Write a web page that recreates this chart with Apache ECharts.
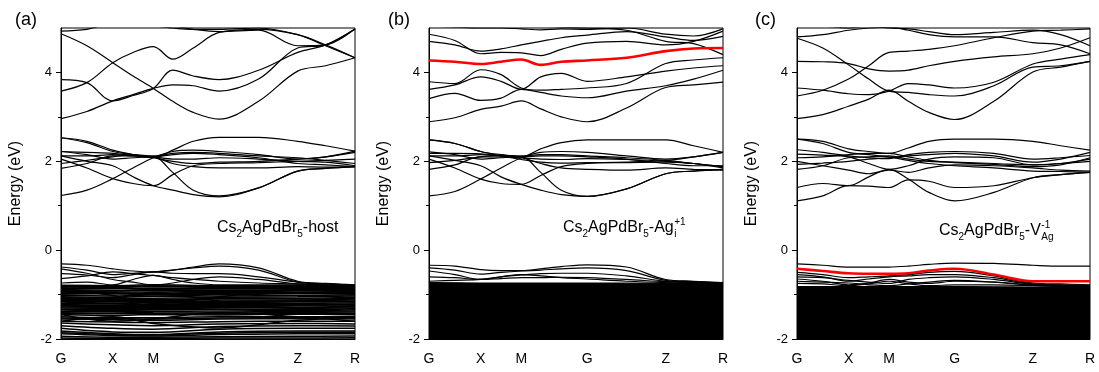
<!DOCTYPE html>
<html><head><meta charset="utf-8">
<script src="https://cdn.jsdelivr.net/npm/echarts@6/dist/echarts.min.js"></script>
<style>html,body{margin:0;padding:0;background:#fff}#c{width:1099px;height:372px}</style>
</head><body><div id="c"></div>
<script>
// k-path coordinates (fraction of path length)
const kGrid = [0, 0.088, 0.176, 0.245, 0.314, 0.38, 0.45, 0.538, 0.672, 0.805, 0.9, 1];
const kHS = [0, 0.176, 0.314, 0.538, 0.805, 1];
const kLabels = ['G', 'X', 'M', 'G', 'Z', 'R'];
const yLabelTicks = [-2, 0, 2, 4];
const yMinorTicks = [-1, 1, 3];

// ---------- Panel (a) host ----------
const aUpper = [
  [2.96, 3.12, 3.36, 3.50, 3.64, 3.72, 3.70, 3.58, 3.85, 4.55, 4.62, 4.98],
  [3.58, 3.77, 4.22, 4.45, 4.58, 4.30, 4.55, 4.90, 4.97, 4.85, 4.62, 4.33],
  [4.87, 4.60, 4.22, 3.92, 3.64, 3.35, 3.10, 2.95, 3.35, 4.03, 4.15, 4.33],
  [3.84, 3.77, 3.36, 3.48, 3.64, 4.05, 3.92, 3.84, 4.05, 4.45, 4.62, 4.98],
  [4.93, 4.97, 5.10, 5.10, 5.10, 5.05, 4.97, 4.92, 4.95, 4.60, 4.62, 4.98],
  [5.20, 5.20, 5.20, 5.10, 5.05, 5.00, 4.97, 4.97, 5.00, 4.85, 4.60, 4.33]
];
const aMiddle = [
  [2.53, 2.45, 2.25, 2.15, 2.08, 2.25, 2.45, 2.54, 2.54, 2.45, 2.35, 2.23],
  [1.23, 1.35, 1.61, 1.85, 2.08, 2.22, 2.25, 2.22, 2.15, 2.05, 2.10, 2.23],
  [2.05, 1.85, 1.61, 1.50, 1.45, 1.70, 1.90, 1.95, 1.97, 2.00, 2.02, 2.05],
  [1.84, 1.95, 2.12, 2.12, 2.10, 1.95, 1.88, 1.85, 1.85, 1.88, 1.87, 1.88],
  [2.22, 2.15, 2.05, 2.08, 2.10, 1.75, 1.35, 1.22, 1.40, 1.78, 1.84, 1.88],
  [2.12, 2.00, 1.90, 1.65, 1.45, 1.35, 1.25, 1.20, 1.40, 1.78, 1.84, 1.88],
  [1.95, 2.02, 2.10, 2.15, 2.12, 2.18, 2.20, 2.18, 2.12, 2.08, 2.02, 1.95],
  [2.12, 2.12, 2.15, 2.12, 2.10, 2.05, 2.05, 2.08, 2.05, 2.00, 1.98, 1.90],
  [2.22, 2.20, 2.18, 2.13, 2.10, 2.15, 2.18, 2.15, 2.08, 1.95, 1.92, 1.88],
  [2.53, 2.42, 2.22, 2.15, 2.08, 2.00, 1.95, 1.98, 2.00, 2.05, 2.10, 2.20]
];
const aValence = [
  [-0.31, -0.34, -0.42, -0.47, -0.49, -0.45, -0.38, -0.31, -0.40, -0.70, -0.75, -0.78],
  [-0.38, -0.45, -0.55, -0.52, -0.49, -0.45, -0.40, -0.36, -0.45, -0.72, -0.76, -0.79],
  [-0.53, -0.56, -0.62, -0.55, -0.49, -0.52, -0.53, -0.53, -0.60, -0.72, -0.76, -0.79],
  [-0.64, -0.58, -0.49, -0.53, -0.57, -0.62, -0.66, -0.70, -0.74, -0.76, -0.78, -0.80],
  [-0.74, -0.72, -0.78, -0.66, -0.57, -0.66, -0.74, -0.78, -0.78, -0.78, -0.80, -0.82],
  [-0.42, -0.52, -0.66, -0.72, -0.78, -0.74, -0.66, -0.60, -0.66, -0.76, -0.79, -0.81]
];
const aDense = [
  [-0.79, -0.80, -0.78, -0.80, -0.80, -0.82], [-0.81, -0.82, -0.80, -0.82, -0.82, -0.83],
  [-0.83, -0.84, -0.82, -0.84, -0.83, -0.85], [-0.85, -0.86, -0.85, -0.86, -0.86, -0.87],
  [-0.87, -0.86, -0.88, -0.87, -0.88, -0.88], [-0.89, -0.90, -0.89, -0.90, -0.90, -0.90],
  [-0.91, -0.92, -0.90, -0.92, -0.91, -0.92], [-0.93, -0.94, -0.94, -0.93, -0.94, -0.94],
  [-0.95, -0.96, -0.97, -0.95, -0.96, -0.95], [-0.97, -0.98, -0.98, -0.98, -0.97, -0.97],
  [-0.99, -0.98, -1.00, -1.00, -0.98, -0.99], [-1.02, -1.03, -1.01, -1.03, -1.02, -1.01],
  [-1.05, -1.06, -1.04, -1.06, -1.05, -1.03], [-1.07, -1.08, -1.08, -1.07, -1.08, -1.06],
  [-1.09, -1.10, -1.12, -1.09, -1.10, -1.08], [-1.11, -1.12, -1.11, -1.12, -1.12, -1.10],
  [-1.13, -1.14, -1.13, -1.15, -1.14, -1.12], [-1.15, -1.16, -1.16, -1.16, -1.15, -1.15],
  [-1.17, -1.19, -1.18, -1.18, -1.17, -1.17], [-1.20, -1.20, -1.21, -1.20, -1.20, -1.19],
  [-1.22, -1.21, -1.23, -1.22, -1.23, -1.21], [-1.24, -1.24, -1.25, -1.25, -1.24, -1.23],
  [-1.26, -1.27, -1.26, -1.27, -1.26, -1.26], [-1.28, -1.29, -1.29, -1.28, -1.29, -1.28],
  [-1.30, -1.31, -1.32, -1.30, -1.31, -1.30], [-1.33, -1.33, -1.33, -1.33, -1.34, -1.32],
  [-1.35, -1.36, -1.35, -1.35, -1.36, -1.34], [-1.38, -1.38, -1.38, -1.39, -1.38, -1.37],
  [-1.40, -1.39, -1.41, -1.42, -1.40, -1.39], [-1.43, -1.43, -1.43, -1.44, -1.42, -1.42],
  [-1.45, -1.47, -1.45, -1.46, -1.44, -1.45], [-1.50, -1.52, -1.52, -1.50, -1.50, -1.49],
  [-1.53, -1.54, -1.55, -1.53, -1.52, -1.52], [-1.55, -1.56, -1.58, -1.55, -1.54, -1.55],
  [-1.60, -1.62, -1.63, -1.61, -1.60, -1.60], [-1.64, -1.68, -1.70, -1.66, -1.65, -1.66],
  [-1.70, -1.76, -1.78, -1.72, -1.70, -1.71], [-1.76, -1.84, -1.85, -1.78, -1.76, -1.76],
  [-1.82, -1.88, -1.90, -1.84, -1.82, -1.82], [-1.86, -1.90, -1.91, -1.87, -1.85, -1.85],
  [-1.88, -1.92, -1.93, -1.90, -1.88, -1.88], [-1.94, -1.96, -1.96, -1.95, -1.94, -1.93],
  [-1.98, -1.99, -1.99, -1.98, -1.98, -1.97],
  [-0.85, -1.02, -1.20, -1.05, -0.90, -0.95], [-1.25, -1.10, -0.95, -1.15, -1.30, -1.25],
  [-1.45, -1.60, -1.55, -1.40, -1.50, -1.60], [-1.60, -1.50, -1.65, -1.75, -1.58, -1.52]
];

// ---------- Panel (b) Ag interstitial ----------
const bUpper = [
  [2.89, 2.98, 3.17, 3.24, 3.36, 3.18, 3.00, 2.89, 3.20, 3.66, 3.72, 3.78],
  [3.41, 3.53, 3.37, 3.42, 3.62, 3.55, 3.47, 3.43, 3.58, 3.70, 3.85, 4.05],
  [3.62, 3.72, 3.90, 3.80, 3.62, 3.90, 3.98, 3.80, 3.90, 4.03, 4.10, 4.15],
  [3.79, 3.75, 4.06, 3.95, 3.65, 3.60, 3.62, 3.65, 3.75, 4.20, 4.28, 4.33],
  [4.70, 4.62, 4.48, 4.53, 4.62, 4.70, 4.78, 4.84, 4.92, 4.80, 4.72, 4.81],
  [4.86, 4.72, 4.42, 4.45, 4.44, 4.38, 4.52, 4.66, 4.70, 4.62, 4.70, 4.93],
  [5.05, 5.02, 5.00, 5.00, 4.98, 4.96, 4.98, 4.97, 5.00, 4.86, 4.82, 4.98],
  [5.20, 5.20, 5.20, 5.15, 5.10, 5.05, 5.02, 5.00, 4.95, 4.70, 4.65, 4.40]
];
const bMiddle = [
  [2.48, 2.40, 2.22, 2.15, 2.10, 2.28, 2.42, 2.48, 2.48, 2.48, 2.35, 2.20],
  [1.22, 1.32, 1.60, 1.85, 2.08, 2.20, 2.22, 2.20, 2.12, 2.05, 2.10, 2.20],
  [2.05, 1.85, 1.60, 1.50, 1.48, 1.68, 1.88, 1.95, 1.97, 1.98, 1.95, 1.88],
  [1.82, 1.92, 2.10, 2.10, 2.08, 1.95, 1.85, 1.82, 1.80, 1.85, 1.82, 1.80],
  [2.21, 2.15, 2.05, 2.08, 2.10, 1.75, 1.35, 1.21, 1.38, 1.72, 1.78, 1.82],
  [2.12, 2.02, 1.90, 1.65, 1.48, 1.35, 1.25, 1.21, 1.38, 1.72, 1.78, 1.82],
  [1.97, 2.02, 2.10, 2.14, 2.12, 2.15, 2.15, 2.12, 2.08, 2.02, 1.95, 1.88],
  [2.12, 2.12, 2.15, 2.12, 2.08, 2.05, 2.04, 2.06, 2.04, 2.00, 1.95, 1.85],
  [2.18, 2.18, 2.17, 2.13, 2.10, 2.12, 2.12, 2.10, 2.05, 1.95, 1.90, 1.90],
  [2.48, 2.40, 2.22, 2.12, 2.04, 1.98, 1.96, 1.97, 1.98, 2.02, 2.10, 2.20]
];
const bValence = [
  [-0.34, -0.36, -0.44, -0.46, -0.46, -0.42, -0.37, -0.33, -0.38, -0.66, -0.70, -0.73],
  [-0.40, -0.45, -0.54, -0.50, -0.47, -0.45, -0.42, -0.40, -0.46, -0.68, -0.71, -0.74],
  [-0.47, -0.55, -0.66, -0.60, -0.56, -0.53, -0.52, -0.52, -0.58, -0.70, -0.72, -0.74],
  [-0.60, -0.62, -0.66, -0.64, -0.62, -0.62, -0.61, -0.62, -0.66, -0.71, -0.73, -0.74],
  [-0.70, -0.68, -0.66, -0.60, -0.55, -0.58, -0.62, -0.65, -0.70, -0.73, -0.74, -0.75]
];
const bDenseTop = [-0.73, -0.74, -0.74, -0.74, -0.75, -0.76];
const bDefect = [4.27, 4.24, 4.19, 4.24, 4.29, 4.17, 4.24, 4.27, 4.33, 4.48, 4.54, 4.55];

// ---------- Panel (c) Ag vacancy ----------
const cUpper = [
  [2.96, 3.05, 3.24, 3.40, 3.60, 3.35, 3.10, 2.94, 3.35, 4.01, 4.12, 4.25],
  [3.47, 3.60, 3.85, 4.15, 4.45, 4.48, 4.52, 4.60, 4.78, 4.93, 4.95, 4.98],
  [3.65, 3.60, 3.52, 3.50, 3.58, 3.75, 3.72, 3.65, 3.78, 4.19, 4.30, 4.40],
  [4.25, 4.24, 4.20, 4.08, 4.03, 4.05, 4.15, 4.25, 4.35, 4.42, 4.55, 4.78],
  [4.77, 4.55, 4.17, 3.85, 3.58, 3.55, 3.50, 3.47, 3.70, 4.12, 4.15, 4.25],
  [4.80, 4.85, 4.95, 5.00, 5.02, 4.95, 4.85, 4.80, 4.80, 4.67, 4.62, 4.42],
  [5.10, 5.05, 5.00, 5.05, 5.00, 4.98, 4.92, 4.85, 4.90, 4.95, 4.85, 4.60]
];
const cMiddle = [
  [2.50, 2.45, 2.28, 2.22, 2.18, 2.30, 2.45, 2.50, 2.50, 2.45, 2.35, 2.25],
  [1.11, 1.22, 1.45, 1.44, 1.41, 1.58, 1.55, 1.41, 1.45, 1.63, 1.70, 1.75],
  [1.41, 1.50, 1.45, 1.65, 1.82, 1.60, 1.30, 1.11, 1.30, 1.63, 1.70, 1.75],
  [2.00, 1.90, 1.80, 1.72, 1.80, 1.75, 1.85, 1.92, 1.90, 1.85, 1.80, 1.78],
  [1.82, 1.90, 2.08, 2.10, 2.12, 2.05, 2.00, 1.98, 1.95, 1.92, 1.95, 2.00],
  [2.26, 2.20, 2.12, 2.08, 2.06, 2.15, 2.20, 2.22, 2.18, 2.05, 2.08, 2.13],
  [2.16, 2.14, 2.10, 1.95, 1.82, 1.90, 2.05, 2.10, 2.08, 1.92, 1.95, 2.05],
  [2.08, 2.10, 2.15, 2.18, 2.18, 2.10, 2.02, 1.97, 1.93, 1.88, 1.92, 2.08],
  [1.93, 1.96, 2.00, 2.05, 2.08, 2.12, 2.15, 2.18, 2.12, 1.98, 2.05, 2.20],
  [2.50, 2.40, 2.20, 2.15, 2.10, 2.02, 1.95, 1.90, 1.85, 1.78, 1.77, 1.75]
];
const cValence = [
  [-0.31, -0.34, -0.38, -0.38, -0.38, -0.36, -0.32, -0.29, -0.30, -0.34, -0.36, -0.36],
  [-0.50, -0.55, -0.62, -0.60, -0.58, -0.55, -0.50, -0.48, -0.58, -0.74, -0.76, -0.78],
  [-0.55, -0.60, -0.70, -0.65, -0.60, -0.58, -0.55, -0.55, -0.62, -0.76, -0.78, -0.80],
  [-0.60, -0.62, -0.68, -0.72, -0.75, -0.66, -0.62, -0.60, -0.66, -0.77, -0.79, -0.80],
  [-0.65, -0.70, -0.78, -0.74, -0.66, -0.72, -0.75, -0.70, -0.72, -0.78, -0.80, -0.82],
  [-0.70, -0.72, -0.74, -0.78, -0.80, -0.76, -0.72, -0.68, -0.72, -0.79, -0.81, -0.82],
  [-0.75, -0.76, -0.80, -0.76, -0.70, -0.76, -0.80, -0.78, -0.78, -0.80, -0.82, -0.83]
];
const cDenseTop = [-0.82, -0.82, -0.82, -0.82, -0.83, -0.83];
const cDefect = [-0.42, -0.47, -0.52, -0.53, -0.53, -0.52, -0.46, -0.42, -0.55, -0.70, -0.70, -0.70];

// ---------- build ----------
const FONT = 'Liberation Sans, Arial, sans-serif';
const grids = [
  {left: 61, top: 28, width: 294, height: 311},
  {left: 429, top: 28, width: 294, height: 311},
  {left: 797, top: 28, width: 293, height: 311}
];
const series = [];
function addBands(gi, ks, bands, color, width, z) {
  bands.forEach(b => series.push({
    type: 'line', xAxisIndex: gi, yAxisIndex: gi * 2, smooth: 0.35, symbol: 'none',
    data: ks.map((k, i) => [k, b[i]]), lineStyle: {color: color, width: width}, z: z || 2,
    silent: true, animation: false
  }));
}
function addBlock(gi, top) {
  series.push({
    type: 'line', xAxisIndex: gi, yAxisIndex: gi * 2, symbol: 'none', smooth: 0.3,
    data: kHS.map((k, i) => [k, top[i]]), lineStyle: {color: '#000', width: 1.2},
    areaStyle: {color: '#000', opacity: 1, origin: 'start'}, silent: true, animation: false, z: 1
  });
}
addBands(0, kGrid, aUpper, '#000', 1.2);
addBands(0, kGrid, aMiddle, '#000', 1.2);
addBands(0, kGrid, aValence, '#000', 1.2);
addBands(0, kHS, aDense, '#000', 1.5);
addBands(1, kGrid, bUpper, '#000', 1.2);
addBands(1, kGrid, bMiddle, '#000', 1.2);
addBands(1, kGrid, bValence, '#000', 1.2);
addBlock(1, bDenseTop);
addBands(1, kGrid, [bDefect], '#ff0000', 2.6, 5);
addBands(2, kGrid, cUpper, '#000', 1.2);
addBands(2, kGrid, cMiddle, '#000', 1.2);
addBands(2, kGrid, cValence, '#000', 1.2);
addBlock(2, cDenseTop);
addBands(2, kGrid, [cDefect], '#ff0000', 2.6, 5);

const xAxes = [], yAxes = [];
grids.forEach((g, i) => {
  xAxes.push({
    type: 'value', gridIndex: i, min: 0, max: 1,
    axisLine: {show: true, onZero: false, lineStyle: {color: '#000', width: 1}},
    axisTick: {show: false}, splitLine: {show: false},
    axisLabel: {customValues: kHS, margin: 13, color: '#000', fontSize: 14, fontFamily: FONT,
      formatter: v => { const j = kHS.indexOf(v); return j >= 0 ? kLabels[j] : ''; }}
  });
  yAxes.push({
    type: 'value', gridIndex: i, min: -2, max: 5,
    name: 'Energy (eV)', nameLocation: 'middle', nameGap: 37, nameRotate: 90,
    nameTextStyle: {fontSize: 16, fontFamily: FONT, color: '#000'},
    axisLine: {show: true, onZero: false, lineStyle: {color: '#000', width: 1}},
    axisTick: {show: true, customValues: yLabelTicks, length: 5, lineStyle: {color: '#000'}},
    axisLabel: {customValues: yLabelTicks, margin: 9, color: '#000', fontSize: 13, fontFamily: FONT},
    splitLine: {show: false}
  });
  yAxes.push({
    type: 'value', gridIndex: i, min: -2, max: 5, position: 'left',
    axisLine: {show: false, onZero: false},
    axisTick: {show: true, customValues: yMinorTicks, length: 3, lineStyle: {color: '#000'}},
    axisLabel: {show: false}, splitLine: {show: false}
  });
});

// text helpers (layout only)
const cv = document.createElement('canvas').getContext('2d');
function tw(t, s) { cv.font = s + 'px ' + FONT; return cv.measureText(t).width; }
const rich = {
  m: {fontSize: 16, lineHeight: 22, fontFamily: FONT, fill: '#000'},
  s: {fontSize: 10, lineHeight: 10, verticalAlign: 'bottom', fontFamily: FONT, fill: '#000'}
};
function formula(x, yc, parts) {
  return {type: 'text', x: x, y: yc, z: 10,
    style: {text: parts, rich: rich, verticalAlign: 'middle', align: 'left'}};
}
const base = '{m|Cs}{s|2}{m|AgPdBr}{s|5}';
const baseW = tw('Cs', 16) + tw('2', 10) + tw('AgPdBr', 16) + tw('5', 10);
const graphics = [
  {type: 'text', x: 15, y: 20, style: {text: '(a)', font: '18px ' + FONT, fill: '#000', verticalAlign: 'middle'}},
  {type: 'text', x: 388, y: 20, style: {text: '(b)', font: '18px ' + FONT, fill: '#000', verticalAlign: 'middle'}},
  {type: 'text', x: 755, y: 20, style: {text: '(c)', font: '18px ' + FONT, fill: '#000', verticalAlign: 'middle'}},
  formula(217, 228, base + '{m|-host}'),
  formula(563, 228, base + '{m|-Ag}'),
  formula(939, 231, base + '{m|-V}')
];
const bEnd = 563 + baseW + tw('-Ag', 16) + 0.5;
const cEnd = 939 + baseW + tw('-V', 16) + 0.5;
graphics.push({type: 'text', x: bEnd, y: 222, style: {text: '+1', font: '10px ' + FONT, fill: '#000', verticalAlign: 'middle'}});
graphics.push({type: 'text', x: bEnd, y: 234, style: {text: 'i', font: '10px ' + FONT, fill: '#000', verticalAlign: 'middle'}});
graphics.push({type: 'text', x: cEnd, y: 225, style: {text: '-1', font: '10px ' + FONT, fill: '#000', verticalAlign: 'middle'}});
graphics.push({type: 'text', x: cEnd, y: 237, style: {text: 'Ag', font: '10px ' + FONT, fill: '#000', verticalAlign: 'middle'}});

const chart = echarts.init(document.getElementById('c'), null, {renderer: 'canvas'});
chart.setOption({
  animation: false,
  backgroundColor: '#fff',
  grid: grids.map(g => Object.assign({show: true, borderColor: '#000', borderWidth: 1, backgroundColor: 'transparent', containLabel: false}, g)),
  xAxis: xAxes, yAxis: yAxes, series: series, graphic: graphics
});
</script></body></html>
